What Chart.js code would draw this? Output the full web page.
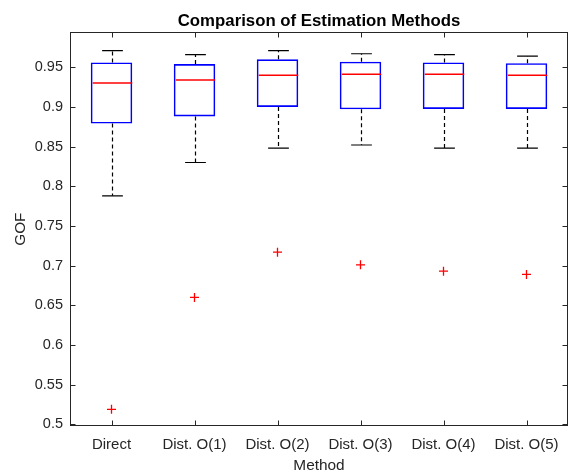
<!DOCTYPE html>
<html>
<head>
<meta charset="utf-8">
<script src="https://cdn.jsdelivr.net/npm/chart.js@4.4.1/dist/chart.umd.min.js"></script>
<style>
  html, body { margin: 0; padding: 0; background: #fff; }
</style>
</head>
<body>
<canvas id="chart" width="569" height="473"></canvas>
<script>
// Box-plot statistics per estimation method.
const METHODS      = ['Direct', 'Dist. O(1)', 'Dist. O(2)', 'Dist. O(3)', 'Dist. O(4)', 'Dist. O(5)'];
const WHISKER_LOW  = [0.788, 0.830, 0.848, 0.852, 0.848, 0.848];
const Q1           = [0.879, 0.888, 0.900, 0.897, 0.8975, 0.8975];
const MEDIAN       = [0.930, 0.934, 0.940, 0.941, 0.941, 0.940];
const Q3           = [0.956, 0.954, 0.960, 0.957, 0.956, 0.955];
const WHISKER_HIGH = [0.971, 0.966, 0.971, 0.967, 0.966, 0.964];
const OUTLIERS     = [0.519, 0.660, 0.717, 0.701, 0.693, 0.689];
const Y_TICKS      = [0.5, 0.55, 0.6, 0.65, 0.7, 0.75, 0.8, 0.85, 0.9, 0.95];

const AXIS_COLOR = '#262626';
const FONT = 'Arial, "Liberation Sans", Helvetica, sans-serif';

// Whiskers, caps and medians, placed with the chart's own scales.
const boxWhiskers = {
  id: 'boxWhiskers',
  afterDatasetsDraw(chart) {
    const { ctx, scales: { x, y } } = chart;
    const boxes = chart.getDatasetMeta(0).data;
    const step = x.width / METHODS.length;
    ctx.save();
    METHODS.forEach((m, i) => {
      const cx = Math.round(x.getPixelForValue(i)) + 0.5;
      const capHalf = step * 0.125;
      // dashed whiskers
      ctx.strokeStyle = '#000';
      ctx.lineWidth = 1.2;
      ctx.setLineDash([4, 3]);
      ctx.beginPath();
      ctx.moveTo(cx, y.getPixelForValue(Q3[i]));
      ctx.lineTo(cx, y.getPixelForValue(WHISKER_HIGH[i]));
      ctx.moveTo(cx, y.getPixelForValue(Q1[i]));
      ctx.lineTo(cx, y.getPixelForValue(WHISKER_LOW[i]));
      ctx.stroke();
      // caps
      ctx.setLineDash([]);
      ctx.beginPath();
      [WHISKER_HIGH[i], WHISKER_LOW[i]].forEach(v => {
        const py = y.getPixelForValue(v);
        ctx.moveTo(cx - capHalf, py);
        ctx.lineTo(cx + capHalf, py);
      });
      ctx.stroke();
      // median
      const half = boxes[i].width / 2;
      ctx.strokeStyle = '#ff0000';
      ctx.lineWidth = 1.5;
      ctx.beginPath();
      const my = y.getPixelForValue(MEDIAN[i]);
      ctx.moveTo(cx - half + 1, my);
      ctx.lineTo(cx + half - 1, my);
      ctx.stroke();
    });
    ctx.restore();
  }
};

// MATLAB-style closed axes box with inward ticks on all four sides.
const axesFrame = {
  id: 'axesFrame',
  afterDraw(chart) {
    const { ctx, chartArea: a, scales: { x, y } } = chart;
    const l = Math.round(a.left) + 0.5, r = Math.round(a.right) - 0.5;
    const t = Math.round(a.top) + 0.5, b = Math.round(a.bottom) - 0.5;
    const tick = 5;
    ctx.save();
    ctx.strokeStyle = AXIS_COLOR;
    ctx.lineWidth = 1;
    ctx.strokeRect(l, t, r - l, b - t);
    ctx.beginPath();
    y.ticks.forEach((tk, i) => {
      const py = Math.round(y.getPixelForTick(i)) + 0.5;
      ctx.moveTo(l, py); ctx.lineTo(l + tick, py);
      ctx.moveTo(r, py); ctx.lineTo(r - tick, py);
    });
    METHODS.forEach((m, i) => {
      const px = Math.round(x.getPixelForValue(i)) + 0.5;
      ctx.moveTo(px, b); ctx.lineTo(px, b - tick);
      ctx.moveTo(px, t); ctx.lineTo(px, t + tick);
    });
    ctx.stroke();
    ctx.restore();
  }
};

new Chart(document.getElementById('chart'), {
  type: 'bar',
  data: {
    labels: METHODS,
    datasets: [
      {
        data: METHODS.map((m, i) => [Q1[i], Q3[i]]),
        backgroundColor: 'rgba(0,0,0,0)',
        borderColor: '#0000ff',
        borderWidth: 1.6,
        borderSkipped: false,
        barPercentage: 0.5,
        categoryPercentage: 1
      },
      {
        type: 'line',
        data: OUTLIERS,
        showLine: false,
        pointStyle: 'cross',
        pointRadius: 4.5,
        pointBorderWidth: 1.3,
        borderColor: '#ff0000',
        backgroundColor: '#ff0000'
      }
    ]
  },
  options: {
    responsive: false,
    devicePixelRatio: 1,
    animation: false,
    // no auto padding for the outlier markers, so the plot box fills the canvas like the original
    layout: { autoPadding: false, padding: { left: 0, right: 1, top: 0, bottom: 0 } },
    plugins: {
      legend: { display: false },
      tooltip: { enabled: false },
      title: {
        display: true,
        text: 'Comparison of Estimation Methods',
        fullSize: false,
        color: '#000',
        font: { family: FONT, size: 16.8, weight: 'bold', lineHeight: 1 },
        padding: { top: 12.5, bottom: 3 }
      }
    },
    scales: {
      x: {
        grid: { display: false, drawTicks: false },
        border: { display: false },
        ticks: { color: AXIS_COLOR, font: { family: FONT, size: 15 }, padding: 10, maxRotation: 0 },
        title: {
          display: true, text: 'Method', color: AXIS_COLOR,
          font: { family: FONT, size: 15.4, lineHeight: 1 },
          padding: { top: 0, bottom: 0 }
        },
        // fixed band height; no extra side padding for the end labels
        afterFit: s => { s.height = 47; s.paddingLeft = 0; s.paddingRight = 0; }
      },
      y: {
        min: 0.498,
        max: 0.994,
        grid: { display: false, drawTicks: false },
        border: { display: false },
        afterBuildTicks: s => { s.ticks = Y_TICKS.map(v => ({ value: v })); },
        ticks: {
          color: AXIS_COLOR, font: { family: FONT, size: 14.5 }, padding: 7,
          callback: v => String(Number(v.toFixed(2)))
        },
        title: {
          display: true, text: 'GOF', color: AXIS_COLOR,
          font: { family: FONT, size: 15.4, lineHeight: 1 },
          padding: { top: 13, bottom: 0 }
        },
        afterFit: s => { s.width = 70; s.paddingTop = 0; s.paddingBottom = 0; }
      }
    }
  },
  plugins: [boxWhiskers, axesFrame]
});
</script>
</body>
</html>
